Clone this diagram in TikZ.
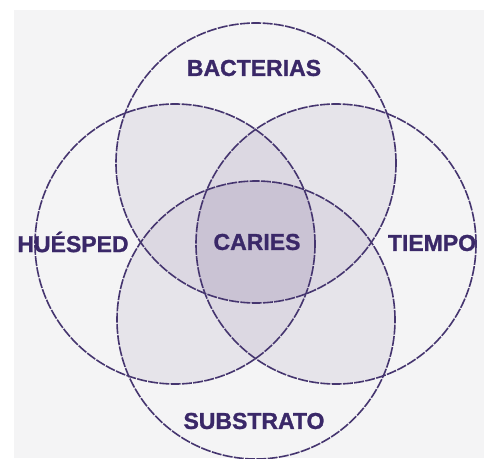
\documentclass[tikz,border=0pt]{standalone}
\usepackage{fontspec}
\setmainfont{Liberation Sans}
\newfontfamily\heavyfont[FakeBold=1.2]{Liberation Sans Bold}
\definecolor{bgc}{HTML}{F4F4F5}
\definecolor{pairc}{HTML}{E6E4EA}
\definecolor{triplec}{HTML}{DCD8E2}
\definecolor{quadc}{HTML}{CAC3D4}
\definecolor{linec}{HTML}{45356F}
\definecolor{textc}{HTML}{3A2868}
\begin{document}
\begin{tikzpicture}[x=1pt,y=-1pt,
  ring/.style={draw=linec,line width=1.6pt,dash pattern=on 10pt off 1.3pt},
  lbl/.style={text=textc,font=\heavyfont\fontsize{23}{23}\selectfont,inner sep=0pt}]
\useasboundingbox (0,0) rectangle (484,458);
\fill[white] (0,0) rectangle (484,458);
\fill[bgc] (14,10) rectangle (484,458);
\def\cT{(256,163) circle[radius=140pt]}
\def\cB{(256,320) circle[radius=139pt]}
\def\cL{(175,244) circle[radius=140pt]}
\def\cR{(336,244) circle[radius=140pt]}
\begin{scope}
\clip (0,0) rectangle (484,458);
% pairs
\begin{scope}\clip \cT; \fill[pairc] \cL; \fill[pairc] \cR; \fill[pairc] \cB; \end{scope}
\begin{scope}\clip \cB; \fill[pairc] \cL; \fill[pairc] \cR; \end{scope}
\begin{scope}\clip \cL; \fill[pairc] \cR; \end{scope}
% triples
\begin{scope}\clip \cT; \clip \cL; \fill[triplec] \cR; \fill[triplec] \cB; \end{scope}
\begin{scope}\clip \cB; \clip \cR; \fill[triplec] \cL; \fill[triplec] \cT; \end{scope}
% all four
\begin{scope}\clip \cT; \clip \cL; \clip \cR; \fill[quadc] \cB; \end{scope}
\draw[ring] \cT;
\draw[ring] \cB;
\draw[ring] \cL;
\draw[ring] \cR;
\end{scope}
\node[lbl] (bact) at (254,68) {BACTERIAS};
\node[lbl] (hues) at (73,242) {HUÉSPED};
\node[lbl] (caries) at (257,242) {CARIES};
\node[lbl] (tiempo) at (432,243) {TIEMPO};
\node[lbl] (subs) at (254,421) {SUBSTRATO};
\end{tikzpicture}
\end{document}
